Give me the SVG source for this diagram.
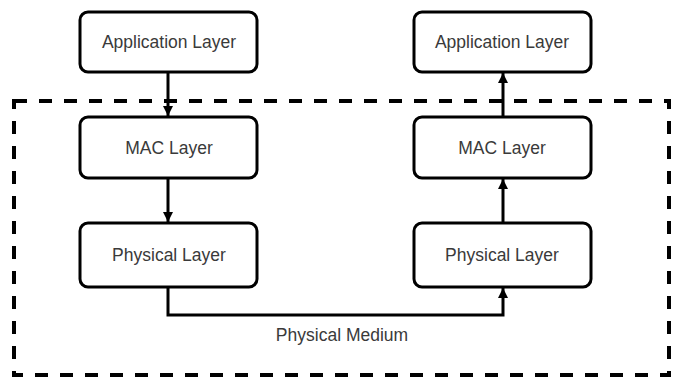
<svg xmlns="http://www.w3.org/2000/svg" width="679" height="378" viewBox="0 0 679 378">
<style>
.box{fill:#fff;stroke:#000;stroke-width:3}
.lbl{font-family:"Liberation Sans",Arial,sans-serif;font-size:17.5px;fill:#3a3a3a;text-anchor:middle;dominant-baseline:central}
.conn{fill:none;stroke:#000;stroke-width:3}
</style>
<defs>
<marker id="arr" viewBox="0 0 10 10" refX="10" refY="5" markerWidth="11" markerHeight="10" markerUnits="userSpaceOnUse" orient="auto">
<path d="M0,0 L10,5 L0,10 Z" fill="#000"/>
</marker>
</defs>
<rect id="boundary" x="14" y="101" width="655" height="274" fill="none" stroke="#000" stroke-width="4" stroke-dasharray="13 12"/>
<g id="connectors">
<line class="conn" x1="168" y1="72" x2="168" y2="116" marker-end="url(#arr)"/>
<line class="conn" x1="168" y1="178" x2="168" y2="222" marker-end="url(#arr)"/>
<line class="conn" x1="503" y1="117" x2="503" y2="73" marker-end="url(#arr)"/>
<line class="conn" x1="503" y1="223" x2="503" y2="179" marker-end="url(#arr)"/>
<path class="conn" d="M168,287 V315 H503 V288" marker-end="url(#arr)"/>
<text class="lbl" x="342" y="335">Physical Medium</text>
</g>
<g id="app-left"><rect class="box" x="80" y="12" width="177" height="60" rx="8"/><text class="lbl" x="169" y="42">Application Layer</text></g>
<g id="mac-left"><rect class="box" x="80" y="117" width="177" height="61" rx="8"/><text class="lbl" x="169" y="148">MAC Layer</text></g>
<g id="phy-left"><rect class="box" x="80" y="223" width="177" height="64" rx="8"/><text class="lbl" x="169" y="255">Physical Layer</text></g>
<g id="app-right"><rect class="box" x="414" y="12" width="177" height="60" rx="8"/><text class="lbl" x="502" y="42">Application Layer</text></g>
<g id="mac-right"><rect class="box" x="414" y="117" width="177" height="61" rx="8"/><text class="lbl" x="502" y="148">MAC Layer</text></g>
<g id="phy-right"><rect class="box" x="414" y="223" width="177" height="64" rx="8"/><text class="lbl" x="502" y="255">Physical Layer</text></g>
</svg>
